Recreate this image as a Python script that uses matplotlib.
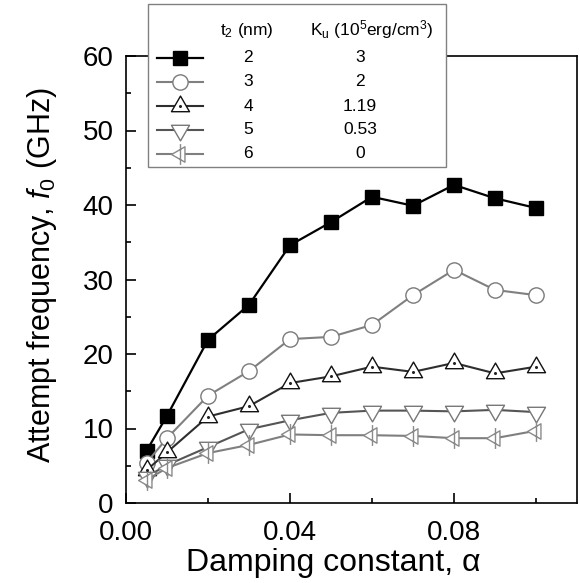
import numpy as np
import matplotlib
matplotlib.use("Agg")
import matplotlib.pyplot as plt
from matplotlib.path import Path
from matplotlib.patches import Rectangle
from matplotlib.lines import Line2D

plt.rcParams['font.family'] = ['Liberation Sans', 'DejaVu Sans']
plt.rcParams['mathtext.fontset'] = 'custom'
plt.rcParams['mathtext.rm'] = 'Liberation Sans'
plt.rcParams['mathtext.it'] = 'Liberation Sans:italic'

# damping constant values and attempt frequency (GHz) for each thickness
alpha = [0.005, 0.01, 0.02, 0.03, 0.04, 0.05, 0.06, 0.07, 0.08, 0.09, 0.10]
f_t2 = [7.0, 11.7, 21.9, 26.6, 34.6, 37.7, 41.1, 39.9, 42.7, 40.9, 39.6]
f_t3 = [5.4, 8.7, 14.4, 17.7, 22.0, 22.3, 23.9, 27.9, 31.3, 28.6, 27.9]
f_t4 = [4.4, 6.8, 11.6, 13.0, 16.1, 17.0, 18.3, 17.6, 18.8, 17.4, 18.3]
f_t5 = [3.5, 5.1, 7.5, 9.9, 11.1, 12.1, 12.4, 12.4, 12.3, 12.5, 12.2]
f_t6 = [3.1, 4.7, 6.7, 7.8, 9.2, 9.1, 9.1, 9.0, 8.7, 8.7, 9.7]

t2_labels = ['2', '3', '4', '5', '6']
ku_labels = ['3', '2', '1.19', '0.53', '0']

# triangle markers, centred on the centroid
h = np.sqrt(3)
tri_up = Path([(-1, -h / 3), (1, -h / 3), (0, 2 * h / 3), (-1, -h / 3)],
              [Path.MOVETO, Path.LINETO, Path.LINETO, Path.CLOSEPOLY])
tri_down = Path([(-1, h / 3), (1, h / 3), (0, -2 * h / 3), (-1, h / 3)],
                [Path.MOVETO, Path.LINETO, Path.LINETO, Path.CLOSEPOLY])
tri_left = Path([(-2 * h / 3, 0), (h / 3, 1), (h / 3, -1), (-2 * h / 3, 0),
                 (0, 1.35), (0, -1.35)],
                [Path.MOVETO, Path.LINETO, Path.LINETO, Path.CLOSEPOLY,
                 Path.MOVETO, Path.LINETO])

styles = [
    dict(marker='s', ms=10, color='black', mfc='black', mec='black', lw=1.6),
    dict(marker='o', ms=11, color='#808080', mfc='white', mec='#7a7a7a', lw=1.5, mew=1.0),
    dict(marker=tri_up, ms=15, color='#2e2e2e', mfc='white', mec='#111111', lw=1.5, mew=1.0),
    dict(marker=tri_down, ms=15, color='#555555', mfc='white', mec='#777777', lw=1.5, mew=1.0),
    dict(marker=tri_left, ms=15, color='#7f7f7f', mfc='white', mec='#8a8a8a', lw=1.5, mew=1.0),
]
series = [f_t2, f_t3, f_t4, f_t5, f_t6]

W, H = 580, 583
fig = plt.figure(figsize=(W / 100, H / 100), dpi=100)
ax = fig.add_axes([126 / W, 1 - 503 / H, 451 / W, 447 / H])

for ys, st in zip(series, styles):
    ax.plot(alpha, ys, **st)
# little dot in the centre of the up triangles
ax.plot(alpha, f_t4, ls='none', marker='o', ms=1.2, color='#222222')

ax.set_xlim(0, 0.11)
ax.set_ylim(0, 60)
ax.set_xticks([0.0, 0.04, 0.08])
ax.set_xticks([0.02, 0.06, 0.10], minor=True)
ax.set_xticklabels(['0.00', '0.04', '0.08'])
ax.set_yticks([0, 10, 20, 30, 40, 50, 60])
ax.set_yticks([5, 15, 25, 35, 45, 55], minor=True)
ax.tick_params(which='both', direction='in', top=False, right=False,
               labelsize=20, width=1.2)
ax.tick_params(axis='x', which='both', pad=12)
ax.tick_params(axis='y', which='both', pad=9)
ax.tick_params(which='major', length=7)
ax.tick_params(which='minor', length=3.5)
for sp in ax.spines.values():
    sp.set_linewidth(1.2)

ax.set_xlabel('Damping constant, α', fontsize=23, labelpad=2, x=0.46)
ax.set_ylabel(r'Attempt frequency, $f_{\mathit{0}}$ (GHz)', fontsize=22, labelpad=17, y=0.51)


# legend box laid out as a small table, in figure pixel coordinates
def fx(x):
    return x / W


def fy(y):
    return 1 - y / H


fig.add_artist(Rectangle((fx(148), fy(167)), fx(446) - fx(148), fy(4) - fy(167),
                         transform=fig.transFigure, facecolor='white',
                         edgecolor='#808080', lw=1.0, zorder=5))
fig.text(fx(247), fy(30), r'$\mathregular{t_2}$ (nm)', fontsize=12.5,
         ha='center', va='center', zorder=6)
fig.text(fx(372), fy(30), r'$\mathregular{K_u}$ ($\mathregular{10^5}$erg/cm$\mathregular{^3}$)',
         fontsize=12.5, ha='center', va='center', zorder=6)
row_y = [58, 82, 106, 130, 154]
for yy, st, t2, ku in zip(row_y, styles, t2_labels, ku_labels):
    fig.add_artist(Line2D([fx(157), fx(180), fx(203)], [fy(yy)] * 3,
                          transform=fig.transFigure, markevery=[1], zorder=6, **st))
    fig.text(fx(248), fy(yy), t2, fontsize=12.5, ha='center', va='center', zorder=6)
    fig.text(fx(360), fy(yy), ku, fontsize=12.5, ha='center', va='center', zorder=6)
fig.add_artist(Line2D([fx(180)], [fy(106)], transform=fig.transFigure, ls='none',
                      marker='o', ms=1.2, color='#222222', zorder=7))

fig.savefig('out.png', dpi=100)
